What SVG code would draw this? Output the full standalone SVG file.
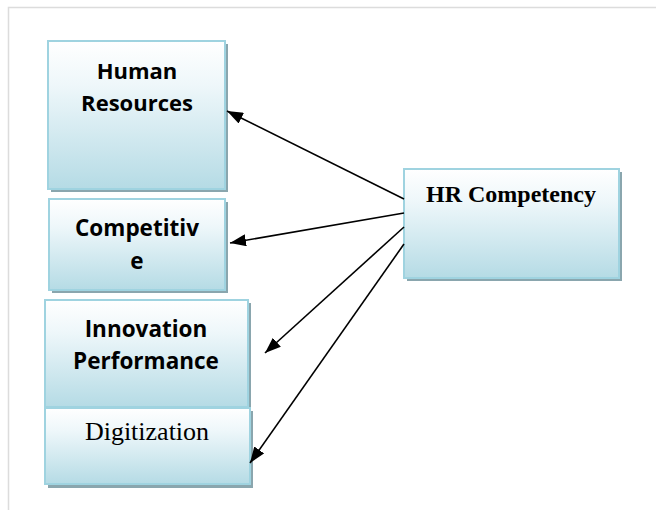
<svg xmlns="http://www.w3.org/2000/svg" width="656" height="510" viewBox="0 0 656 510">
  <defs>
    <linearGradient id="boxFill" x1="0" y1="0" x2="0" y2="1">
      <stop offset="0" stop-color="#ffffff"/>
      <stop offset="0.3" stop-color="#eef7fa"/>
      <stop offset="1" stop-color="#b5dbe5"/>
    </linearGradient>
    <marker id="arrow" viewBox="0 0 16 12" refX="16" refY="6" markerWidth="16" markerHeight="12" markerUnits="userSpaceOnUse" orient="auto">
      <path d="M0,0 L16,6 L0,12 Z" fill="#000"/>
    </marker>
  </defs>
  <style>
    .frame { stroke: #dcdcdc; stroke-width: 1.5; fill: none; }
    .shadow { fill: #8aa6ae; }
    .box { fill: url(#boxFill); stroke: #9fd3e0; stroke-width: 2; }
    .sans { font-family: "Open Sans", "Liberation Sans", sans-serif; font-weight: bold; fill: #000; text-anchor: middle; }
    .serif { font-family: "Liberation Serif", "Times New Roman", serif; fill: #000; text-anchor: middle; }
    .conn { stroke: #000; stroke-width: 1.6; fill: none; marker-end: url(#arrow); }
  </style>

  <rect width="656" height="510" fill="#ffffff"/>
  <!-- page frame -->
  <path class="frame" d="M8.5,510 V7.5 H656"/>

  <g id="human-resources">
    <rect class="shadow" x="51" y="44" width="177" height="148"/>
    <rect class="box" x="48" y="41" width="177" height="148"/>
    <text class="sans" x="137" y="79" font-size="22">Human</text>
    <text class="sans" x="137" y="111" font-size="22">Resources</text>
  </g>

  <g id="competitive">
    <rect class="shadow" x="52" y="202" width="176" height="91"/>
    <rect class="box" x="49" y="199" width="176" height="91"/>
    <text class="sans" x="137" y="236" font-size="22.5">Competitiv</text>
    <text class="sans" x="137" y="269" font-size="22.5">e</text>
  </g>

  <g id="innovation-performance">
    <rect class="shadow" x="48" y="303" width="203" height="107"/>
    <rect class="box" x="45" y="300" width="203" height="107"/>
    <text class="sans" x="146" y="337" font-size="22.5">Innovation</text>
    <text class="sans" x="146" y="369" font-size="22.5">Performance</text>
  </g>

  <g id="digitization">
    <rect class="shadow" x="48" y="411" width="205" height="77"/>
    <rect class="box" x="45" y="408" width="205" height="76"/>
    <text class="serif" x="147" y="440" font-size="26">Digitization</text>
  </g>

  <g id="hr-competency">
    <rect class="shadow" x="407" y="172" width="215" height="109"/>
    <rect class="box" x="404" y="169" width="215" height="109"/>
    <text class="serif" x="511" y="202" font-size="24" font-weight="bold">HR Competency</text>
  </g>

  <g id="connectors">
    <line class="conn" x1="404" y1="199" x2="227" y2="111"/>
    <line class="conn" x1="404" y1="213" x2="230" y2="243"/>
    <line class="conn" x1="404" y1="227" x2="265" y2="353"/>
    <line class="conn" x1="404" y1="244" x2="250" y2="463"/>
  </g>
</svg>
